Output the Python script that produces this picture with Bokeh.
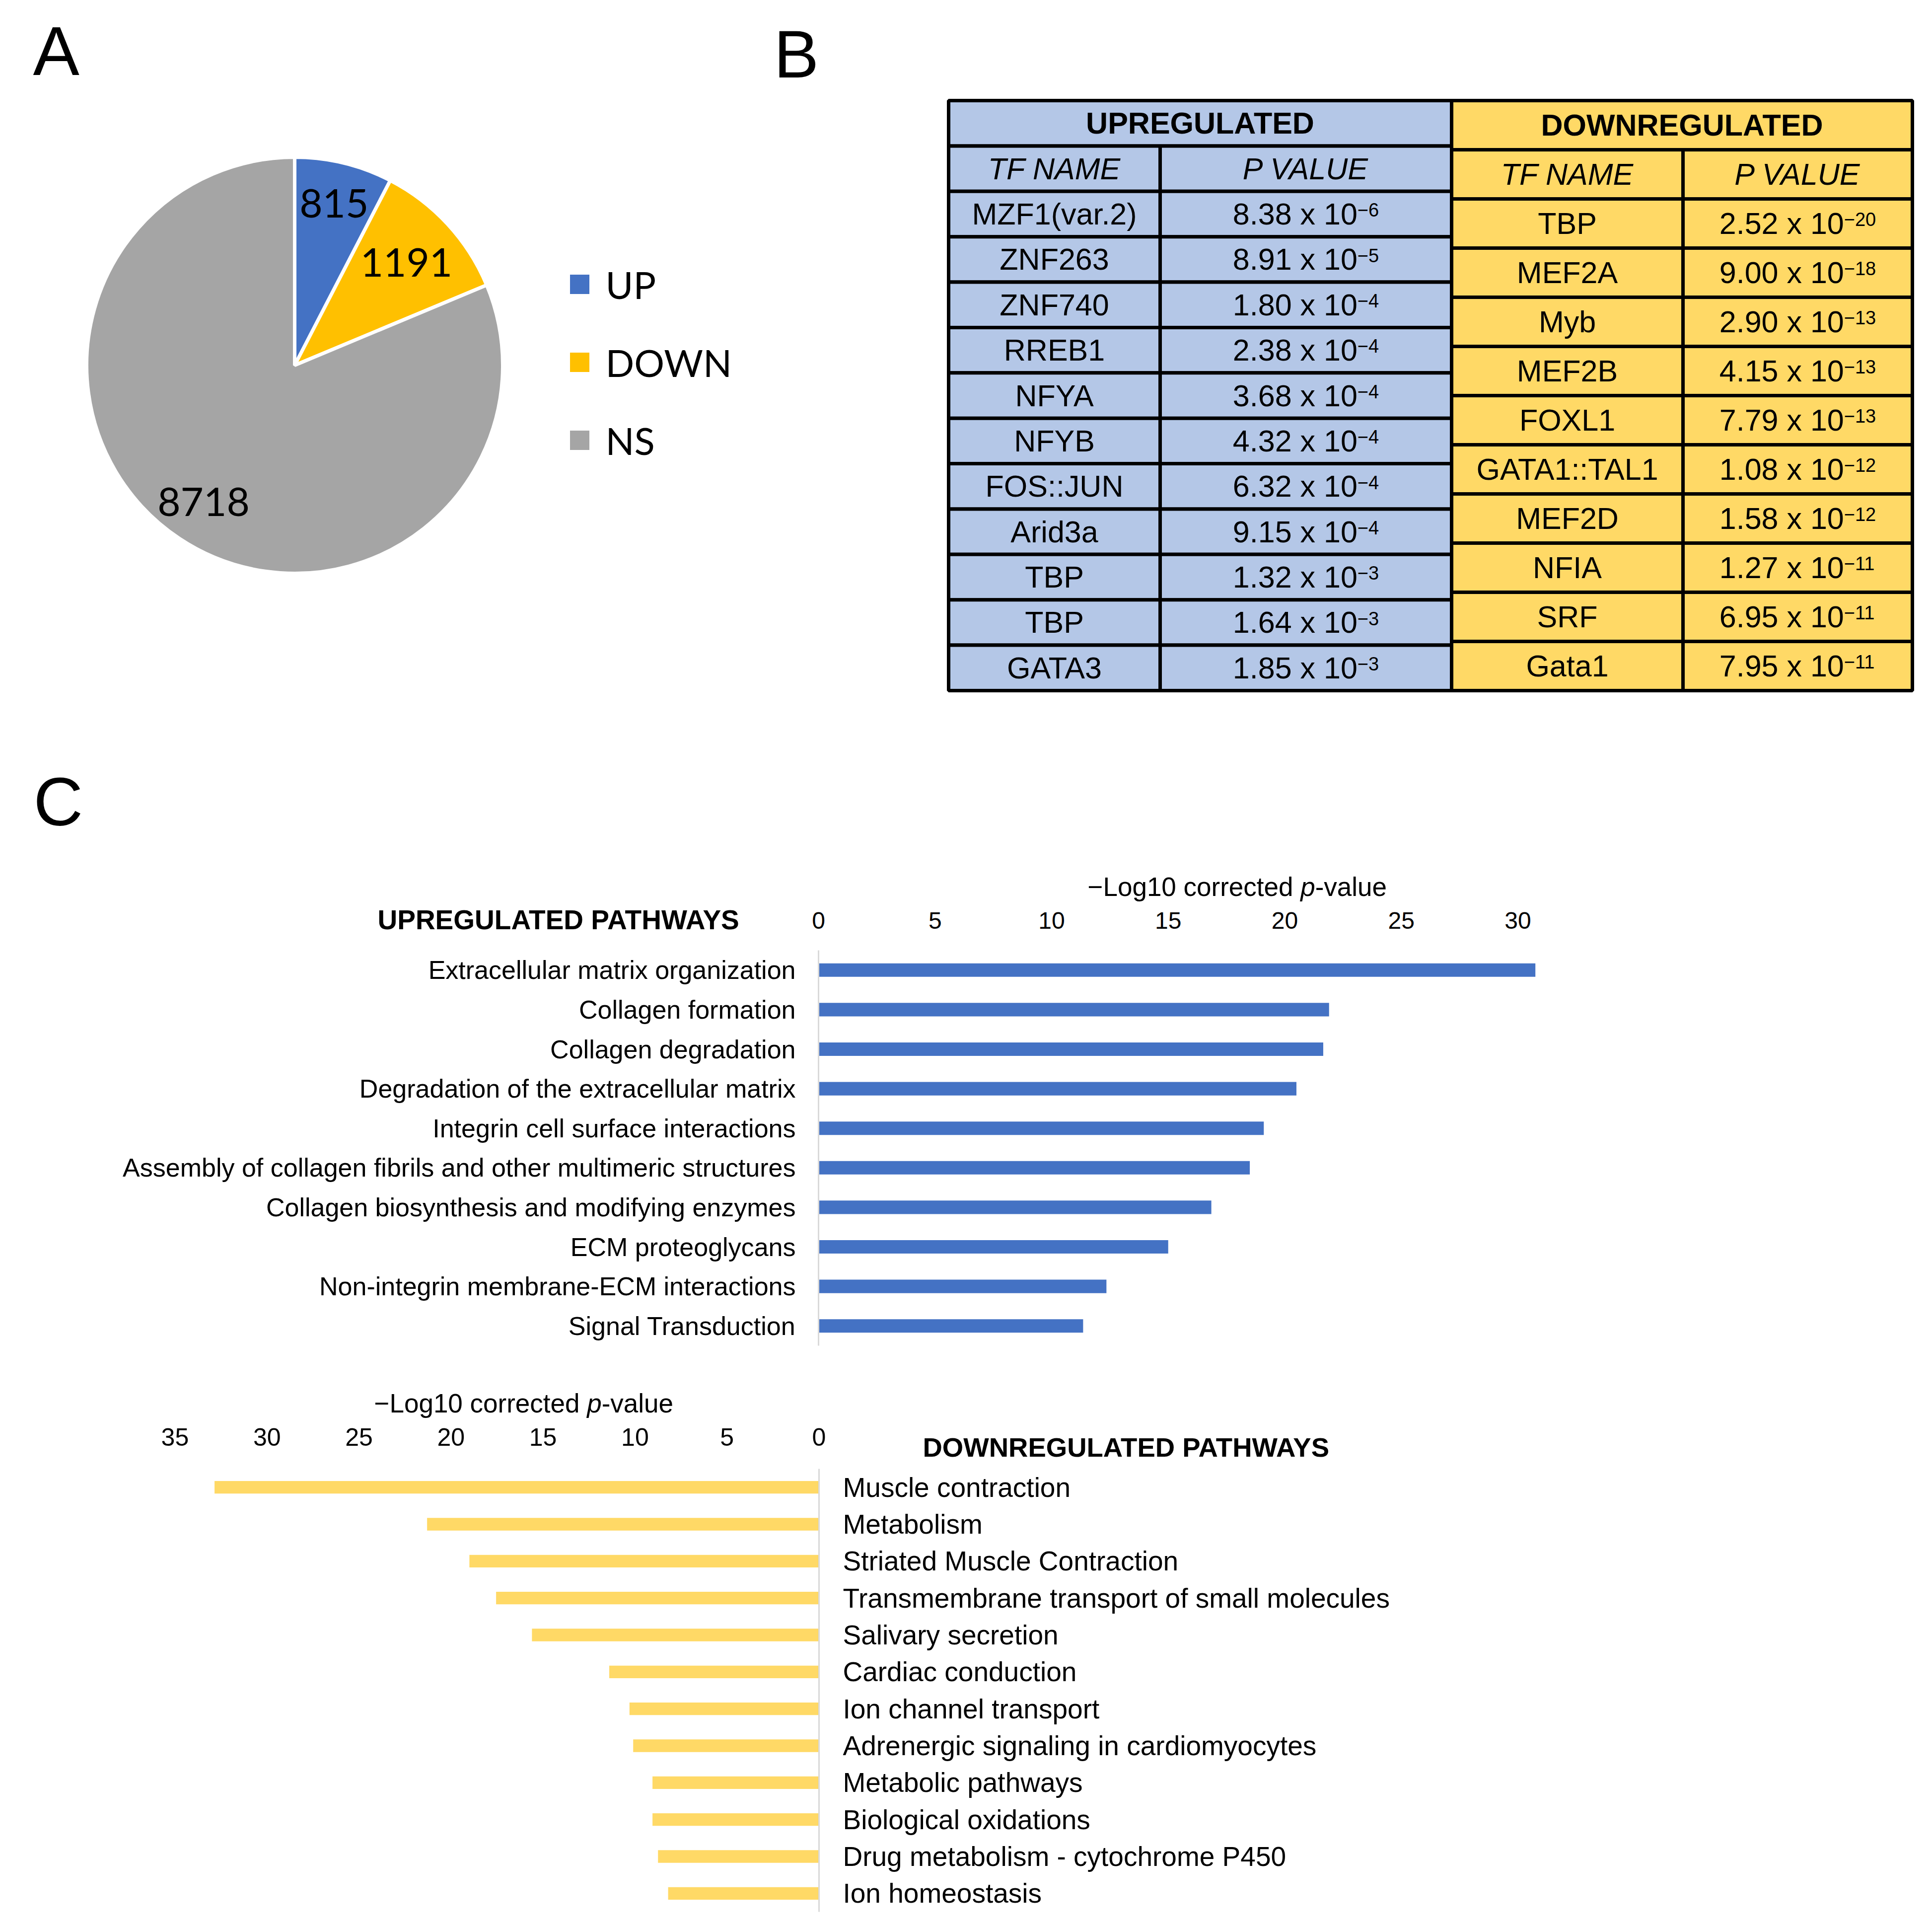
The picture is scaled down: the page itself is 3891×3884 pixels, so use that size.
import math
from bokeh.plotting import figure
from bokeh.models import Range1d, FactorRange, FixedTicker, Label
from bokeh.layouts import row
from bokeh.embed import file_html
from bokeh.resources import INLINE
from bokeh.core.properties import value

# ---------------- data ----------------
pie_labels = ["UP", "DOWN", "NS"]
pie_counts = [815, 1191, 8718]

up_tf_names = ["MZF1(var.2)", "ZNF263", "ZNF740", "RREB1", "NFYA", "NFYB",
               "FOS::JUN", "Arid3a", "TBP", "TBP", "GATA3"]
up_p_mantissa = ["8.38", "8.91", "1.80", "2.38", "3.68", "4.32",
                 "6.32", "9.15", "1.32", "1.64", "1.85"]
up_p_exponent = [-6, -5, -4, -4, -4, -4, -4, -4, -3, -3, -3]

down_tf_names = ["TBP", "MEF2A", "Myb", "MEF2B", "FOXL1", "GATA1::TAL1",
                 "MEF2D", "NFIA", "SRF", "Gata1"]
down_p_mantissa = ["2.52", "9.00", "2.90", "4.15", "7.79", "1.08",
                   "1.58", "1.27", "6.95", "7.95"]
down_p_exponent = [-20, -18, -13, -13, -13, -12, -12, -11, -11, -11]

up_pathways = ["Extracellular matrix organization", "Collagen formation",
               "Collagen degradation", "Degradation of the extracellular matrix",
               "Integrin cell surface interactions",
               "Assembly of collagen fibrils and other multimeric structures",
               "Collagen biosynthesis and modifying enzymes", "ECM proteoglycans",
               "Non-integrin membrane-ECM interactions", "Signal Transduction"]
up_log_p = [30.75, 21.9, 21.65, 20.5, 19.1, 18.5, 16.85, 15.0, 12.35, 11.35]

down_pathways = ["Muscle contraction", "Metabolism", "Striated Muscle Contraction",
                 "Transmembrane transport of small molecules", "Salivary secretion",
                 "Cardiac conduction", "Ion channel transport",
                 "Adrenergic signaling in cardiomyocytes", "Metabolic pathways",
                 "Biological oxidations", "Drug metabolism - cytochrome P450",
                 "Ion homeostasis"]
down_log_p = [32.85, 21.3, 19.0, 17.55, 15.6, 11.4, 10.3, 10.1, 9.05, 9.05, 8.75, 8.2]

up_ticks = [0, 5, 10, 15, 20, 25, 30]
down_ticks = [0, 5, 10, 15, 20, 25, 30, 35]
axis_title_parts = ["\u2212Log10 corrected", "p", "-value"]

# ---------------- styles ----------------
pie_colors = ["#4472C4", "#FFC000", "#A5A5A5"]
TBL_BLUE = "#B4C7E7"
TBL_GOLD = "#FFD966"
BAR_BLUE = "#4472C4"
BAR_GOLD = "#FFD966"
SANS = "Liberation Sans"
PIE_FONT = "Lato"
INK = "#000000"

ARIAL_W = {"\u2212": 584, "L": 556, "o": 556, "g": 556, "0": 556, "1": 556, "2": 556,
           "3": 556, "4": 556, "5": 556, "6": 556, "7": 556, "8": 556, "9": 556,
           " ": 278, ".": 278, "x": 500, "c": 500, "r": 333, "e": 556, "t": 278,
           "d": 556, "p": 556, "-": 333, "v": 500, "a": 556, "l": 222, "u": 556}


def tw(s, size):
    return sum(ARIAL_W.get(ch, 556) for ch in s) / 1000.0 * size


def add_label(p, x, y, text, size, style="normal", place=None, rx="default", ry="default"):
    lab = Label(x=x, y=y, text=text, x_range_name=rx, y_range_name=ry,
                text_font=SANS, text_font_size=f"{size}px", text_font_style=style,
                text_color=INK, text_align="left", text_baseline="middle")
    if place is None:
        p.add_layout(lab)
    else:
        p.add_layout(lab, place)   # side panel: not clipped to the frame


# ---------------- panel A : pie ----------------
A_W, B_W, ROW1_H = 1532, 2343, 1492
pa = figure(width=A_W, height=ROW1_H, x_range=Range1d(0, A_W),
            y_range=Range1d(-ROW1_H, 0), x_axis_type=None, y_axis_type=None,
            output_backend="svg", toolbar_location=None, min_border=0,
            outline_line_color=None)

PIE_CX, PIE_CY, PIE_R = 593, 735, 419
total = float(sum(pie_counts))
cum = [0.0]
for c in pie_counts:
    cum.append(cum[-1] + c / total)
starts = [math.pi / 2 - 2 * math.pi * cum[i] for i in range(len(pie_counts))]
ends = [math.pi / 2 - 2 * math.pi * cum[i + 1] for i in range(len(pie_counts))]
pa.wedge(x=[PIE_CX] * 3, y=[-PIE_CY] * 3, radius=PIE_R, start_angle=starts,
         end_angle=ends, direction="clock", fill_color=pie_colors,
         line_color="white", line_width=7)

label_frac = [0.80, 0.73, 0.79]
mids = [(s + e) / 2 for s, e in zip(starts, ends)]
lx = [PIE_CX + PIE_R * f * math.cos(m) for f, m in zip(label_frac, mids)]
ly = [-PIE_CY + PIE_R * f * math.sin(m) for f, m in zip(label_frac, mids)]
pa.text(x=lx, y=ly, text=[str(c) for c in pie_counts], text_font=value(PIE_FONT),
        text_font_size="80px", text_align="center", text_baseline="middle",
        text_color=INK)

LEG_X, LEG_Y0, LEG_DY, LEG_S = 1167, 572, 157, 39
leg_y = [-(LEG_Y0 + i * LEG_DY) for i in range(len(pie_labels))]
pa.rect(x=[LEG_X] * 3, y=leg_y, width=LEG_S, height=LEG_S, fill_color=pie_colors,
        line_color=None)
pa.text(x=[LEG_X + 52] * 3, y=leg_y, text=pie_labels, text_font=value(PIE_FONT),
        text_font_size="76px", text_align="left", text_baseline="middle",
        text_color=INK)
add_label(pa, 66, -102, "A", 140)

# ---------------- panel B : tables ----------------
TBL_TOP, TBL_BOT = 202, 1390
UP_COLS = [1910, 2336, 2923]
DN_COLS = [2923, 3389, 3851]
TBL_FS, EXP_FS = 61, 38
n_up_rows = len(up_tf_names) + 2
n_dn_rows = len(down_tf_names) + 2
up_rh = (TBL_BOT - TBL_TOP) / n_up_rows
dn_rh = (TBL_BOT - TBL_TOP) / n_dn_rows

pb = figure(width=B_W, height=ROW1_H, x_range=Range1d(A_W, A_W + B_W),
            y_range=Range1d((ROW1_H - TBL_TOP) / up_rh, -TBL_TOP / up_rh),
            x_axis_type=None, y_axis_type=None, output_backend="svg",
            toolbar_location=None, min_border=0, outline_line_color=None)
pb.extra_y_ranges = {"down": Range1d((ROW1_H - TBL_TOP) / dn_rh, -TBL_TOP / dn_rh),
                     "px": Range1d(ROW1_H, 0)}


def table(p, cols, names, mant, expo, fill, title, yname, rh):
    n = len(names)
    L, T, R, Bt = [cols[0]], [0], [cols[2]], [1]
    for r in range(1, n + 2):
        for j in range(2):
            L.append(cols[j]); R.append(cols[j + 1]); T.append(r); Bt.append(r + 1)
    p.quad(left=L, right=R, top=T, bottom=Bt, fill_color=fill, line_color="black",
           line_width=7, y_range_name=yname)
    c0 = (cols[0] + cols[1]) / 2
    c1 = (cols[1] + cols[2]) / 2
    common = dict(text_font=value(SANS), text_font_size=f"{TBL_FS}px",
                  text_baseline="middle", text_color=INK, y_range_name=yname)
    p.text(x=[(cols[0] + cols[2]) / 2], y=[0.5], text=[title], text_align="center",
           text_font_style="bold", **common)
    p.text(x=[c0, c1], y=[1.5, 1.5], text=["TF NAME", "P VALUE"], text_align="center",
           text_font_style="italic", **common)
    ys = [r + 2.5 for r in range(n)]
    p.text(x=[c0] * n, y=ys, text=names, text_align="center", **common)
    mtxt = [f"{m} x 10" for m in mant]
    etxt = [str(e).replace("-", "\u2212") for e in expo]
    widths = [tw(a, TBL_FS) + tw(b, EXP_FS) for a, b in zip(mtxt, etxt)]
    xs = [c1 - w / 2 for w in widths]
    p.text(x=xs, y=ys, text=mtxt, text_align="left", **common)
    lift = 0.358 * (TBL_FS - EXP_FS) / rh       # exponent tops level with the capitals
    p.text(x=[x + tw(a, TBL_FS) for x, a in zip(xs, mtxt)], y=[y - lift for y in ys],
           text=etxt, text_align="left", text_font=value(SANS),
           text_font_size=f"{EXP_FS}px", text_baseline="middle", text_color=INK,
           y_range_name=yname)


table(pb, UP_COLS, up_tf_names, up_p_mantissa, up_p_exponent, TBL_BLUE, "UPREGULATED",
      "default", up_rh)
table(pb, DN_COLS, down_tf_names, down_p_mantissa, down_p_exponent, TBL_GOLD,
      "DOWNREGULATED", "down", dn_rh)
add_label(pb, 1558, 108, "B", 136, ry="px")

# ---------------- panel C : up pathways ----------------
FULL_W = 3875
CU_H = 1260
UP_ZERO, UP_PPU, UP_FR_R = 1656, 46.95, 3300
UP_TOP, UP_BOT = 1923, 2719
UP_BORDER_TOP = 421

pu = figure(width=FULL_W, height=CU_H,
            x_range=Range1d(0, (UP_FR_R - UP_ZERO) / UP_PPU),
            y_range=FactorRange(factors=list(reversed(up_pathways))),
            x_axis_location="above", output_backend="svg", toolbar_location=None,
            min_border_left=UP_ZERO - 8, min_border_right=FULL_W - (UP_FR_R - 8),
            min_border_top=UP_BORDER_TOP,
            min_border_bottom=CU_H - UP_BORDER_TOP - (UP_BOT - UP_TOP),
            outline_line_color=None)
pu.hbar(y=up_pathways, left=0, right=up_log_p, height=0.34, fill_color=BAR_BLUE,
        line_color=None)
pu.extra_x_ranges = {"px": Range1d(UP_ZERO, UP_FR_R)}

# ---------------- panel C : down pathways ----------------
CD_H = 1110
DN_ZERO, DN_PPU, DN_FR_L = 1657, 37.06, 260
DN_TOP, DN_BOT = 2973, 3865
DN_BORDER_TOP = 205

pdn = figure(width=FULL_W, height=CD_H,
             x_range=Range1d((DN_ZERO - DN_FR_L) / DN_PPU, 0),
             y_range=FactorRange(factors=list(reversed(down_pathways))),
             x_axis_location="above", y_axis_location="right",
             output_backend="svg", toolbar_location=None,
             min_border_left=DN_FR_L - 8, min_border_right=FULL_W - (DN_ZERO - 8),
             min_border_top=DN_BORDER_TOP,
             min_border_bottom=CD_H - DN_BORDER_TOP - (DN_BOT - DN_TOP),
             outline_line_color=None)
pdn.hbar(y=down_pathways, left=0, right=down_log_p, height=0.34, fill_color=BAR_GOLD,
         line_color=None)
pdn.extra_x_ranges = {"px": Range1d(DN_FR_L, DN_ZERO)}

for p, ticks, tick_size, cat_size, stand_x, stand_y in (
        (pu, up_ticks, 48, 52, 38, 40), (pdn, down_ticks, 50, 55, 41, 42)):
    p.xgrid.visible = False
    p.ygrid.visible = False
    p.xaxis.ticker = FixedTicker(ticks=ticks)
    p.xaxis.axis_line_color = None
    p.xaxis.major_tick_line_color = None
    p.xaxis.minor_tick_line_color = None
    p.xaxis.major_label_text_font = SANS
    p.xaxis.major_label_text_font_size = f"{tick_size}px"
    p.xaxis.major_label_text_color = INK
    p.xaxis.major_label_standoff = stand_x
    p.yaxis.axis_line_color = "#D9D9D9"
    p.yaxis.axis_line_width = 3
    p.yaxis.major_tick_line_color = None
    p.yaxis.minor_tick_line_color = None
    p.yaxis.major_label_text_font = SANS
    p.yaxis.major_label_text_font_size = f"{cat_size}px"
    p.yaxis.major_label_text_color = INK
    p.yaxis.major_label_standoff = stand_y


def cat_y(ref_y, top, bot, n):
    # page-pixel y -> synthetic categorical coordinate (0 at frame bottom, n at top)
    return (bot - ref_y) / ((bot - top) / n)


def add_axis_title(p, x, y, size, place):
    a, b, c = axis_title_parts
    add_label(p, x, y, a, size, place=place, rx="px")
    x2 = x + tw(a + " ", size)
    add_label(p, x2, y, b, size, "italic", place=place, rx="px")
    x3 = x2 + tw(b, size)
    add_label(p, x3, y, c, size, place=place, rx="px")


nu, nd = len(up_pathways), len(down_pathways)
add_label(pu, 75, cat_y(1623, UP_TOP, UP_BOT, nu), "C", 138, place="left", rx="px")
add_label(pu, 768, cat_y(1861, UP_TOP, UP_BOT, nu), "UPREGULATED PATHWAYS", 55, "bold",
          place="above", rx="px")
add_axis_title(pu, 2198, cat_y(1795, UP_TOP, UP_BOT, nu), 53, "above")

add_label(pdn, 1866, cat_y(2930, DN_TOP, DN_BOT, nd), "DOWNREGULATED PATHWAYS", 54.5,
          "bold", place="above", rx="px")
add_axis_title(pdn, 761, cat_y(2841, DN_TOP, DN_BOT, nd), 53, "right")

# separate roots so that Bokeh does not align the frames of the two bar charts
open("out.html", "w").write(file_html([row(pa, pb), pu, pdn], INLINE))
